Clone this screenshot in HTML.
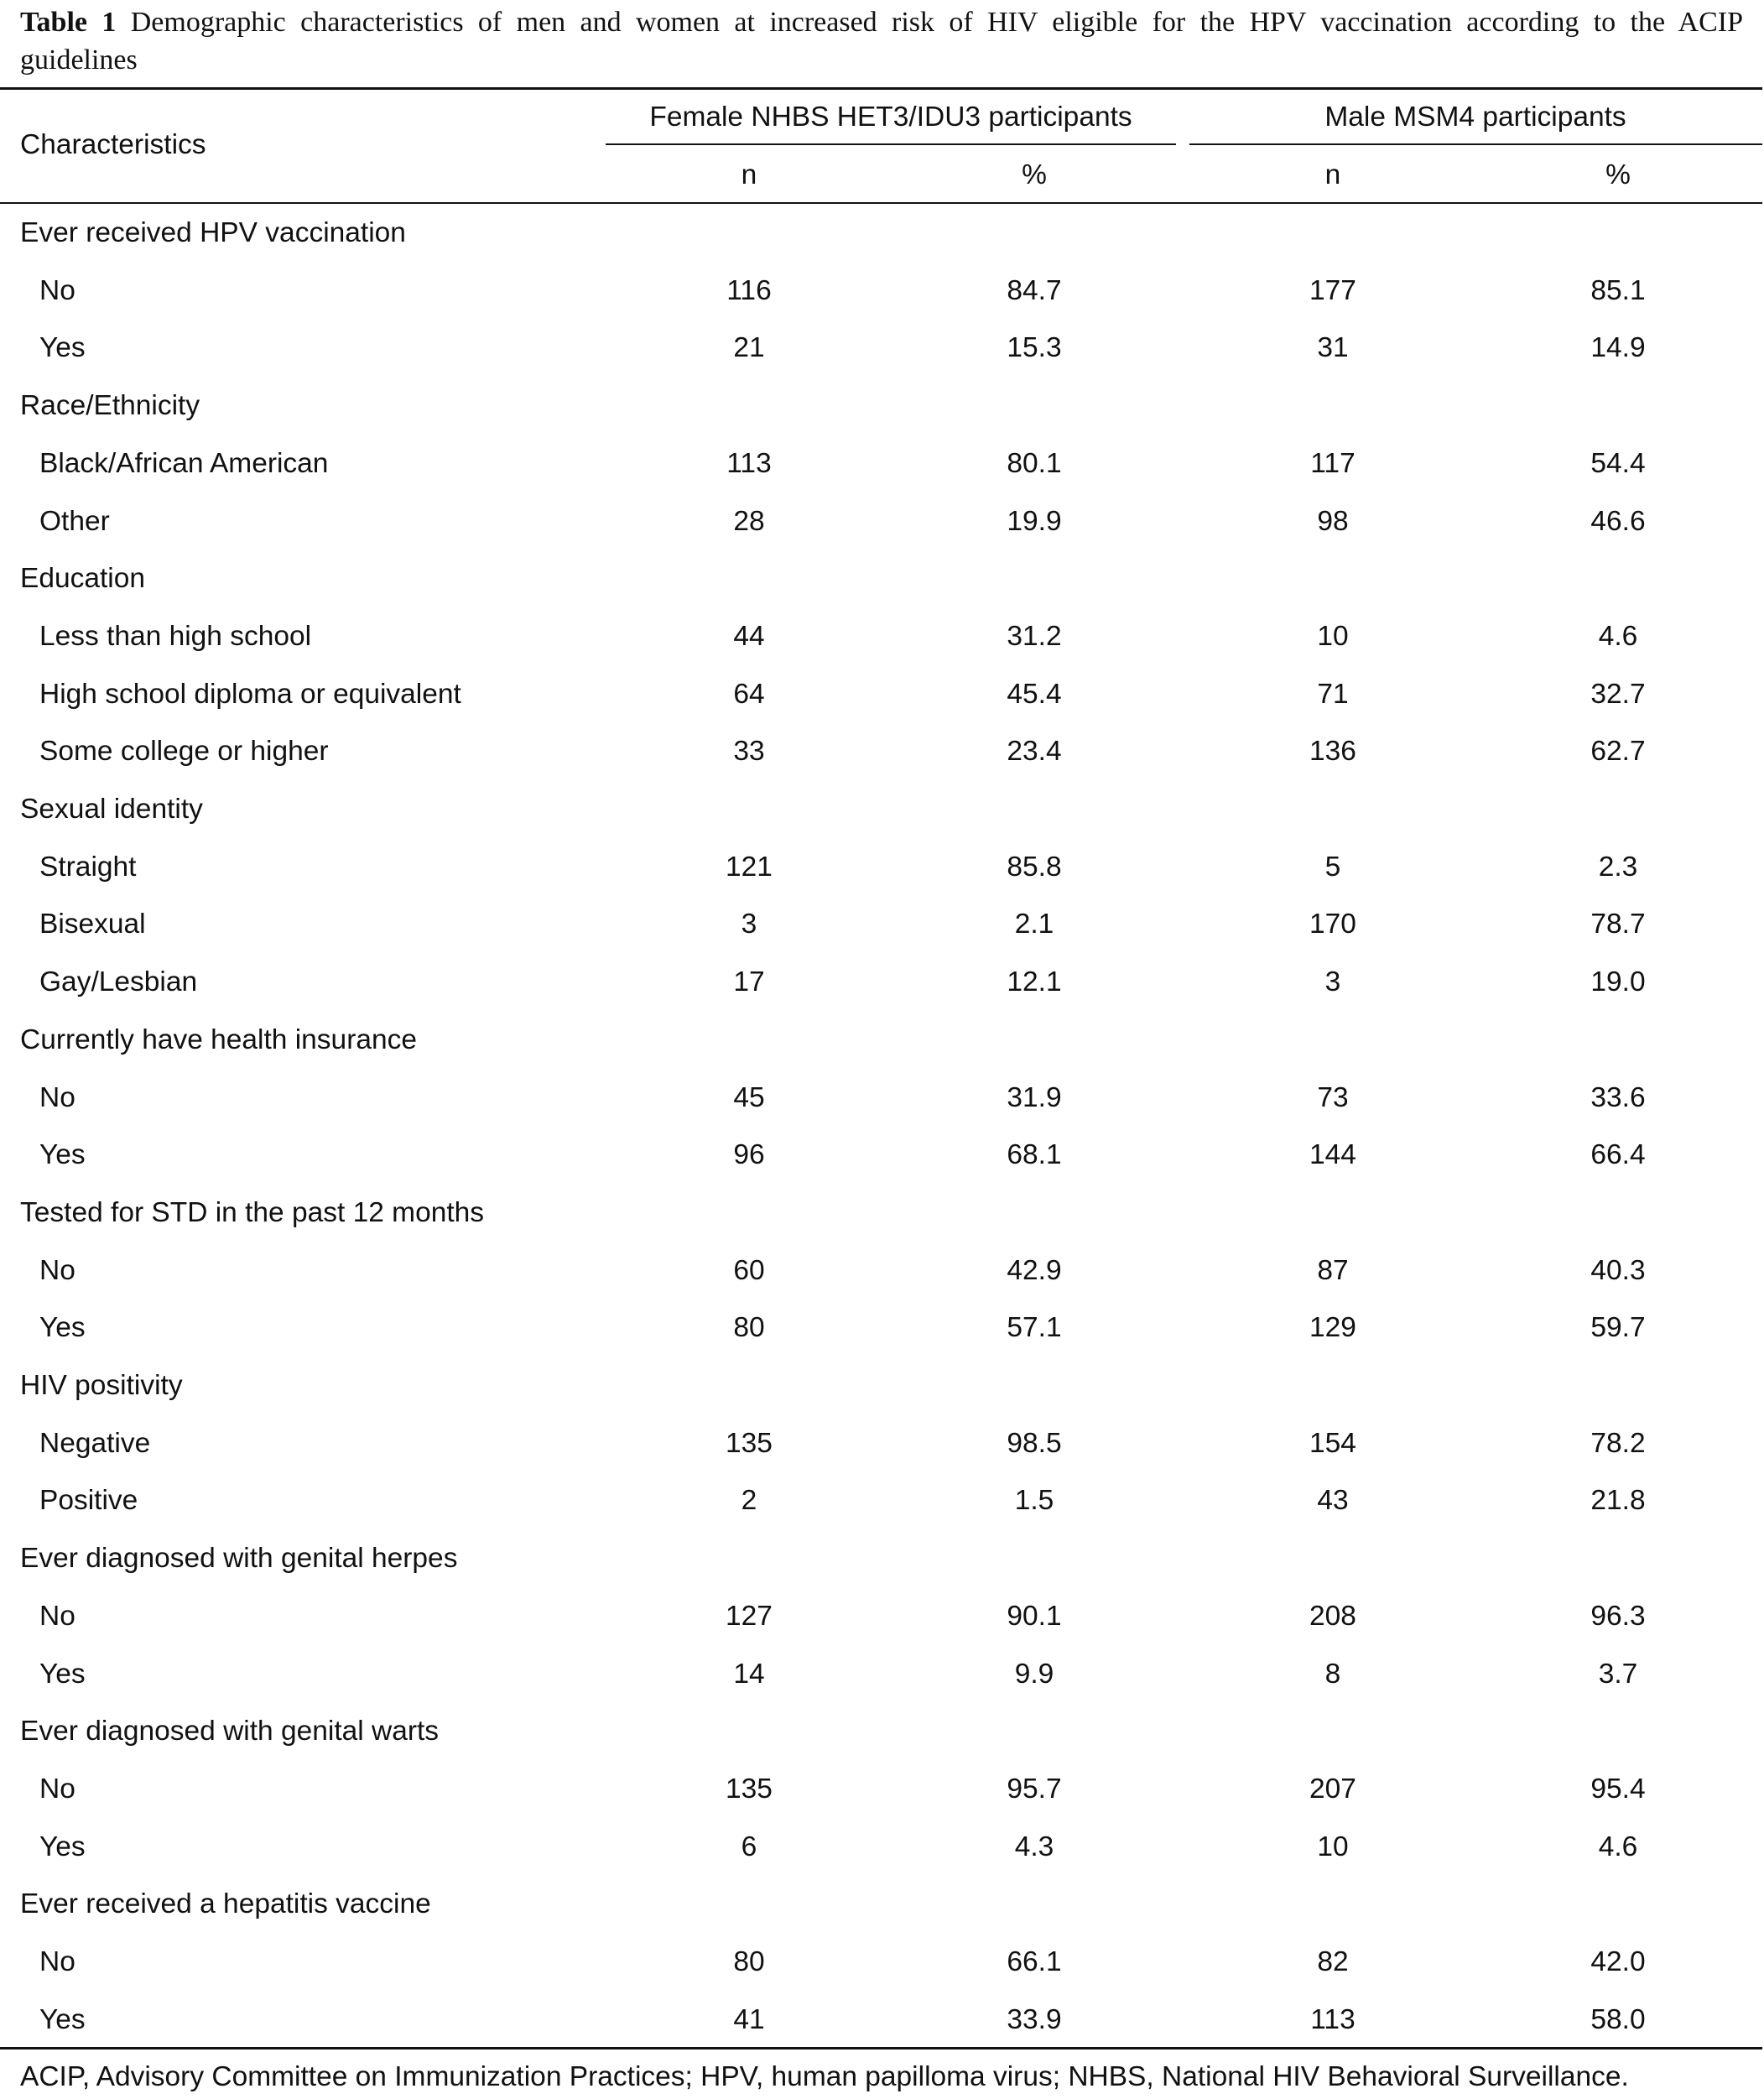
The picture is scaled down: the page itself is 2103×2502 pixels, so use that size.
<!DOCTYPE html>
<html><head><meta charset="utf-8"><style>
body{margin:0;width:2103px;height:2502px;background:#fff;position:relative;overflow:hidden;color:#111}
.t{position:absolute;font-family:"Liberation Sans",sans-serif;font-size:33.5px;line-height:40px;white-space:nowrap}
.c{transform:translateX(-50%)}
.rule{position:absolute;left:0;width:2101px;background:#111}
.ttl{position:absolute;left:24px;width:2054px;font-family:"Liberation Serif",serif;font-size:34px;line-height:44px}
</style></head><body>
<div class="ttl" style="top:5px;text-align:justify;text-align-last:justify"><b>Table 1</b> Demographic characteristics of men and women at increased risk of HIV eligible for the HPV vaccination according to the ACIP</div>
<div class="ttl" style="top:50px">guidelines</div>
<div class="rule" style="top:104px;height:3px"></div>
<div class="t" style="left:24px;top:153px">Characteristics</div>
<div class="t c" style="left:1062px;top:120px">Female NHBS HET3/IDU3 participants</div>
<div class="t c" style="left:1759px;top:120px">Male MSM4 participants</div>
<div class="rule" style="top:171px;height:2px;left:722px;width:680px"></div>
<div class="rule" style="top:171px;height:2px;left:1418px;width:683px"></div>
<div class="t c" style="left:893px;top:189px">n</div>
<div class="t c" style="left:1233px;top:189px">%</div>
<div class="t c" style="left:1589px;top:189px">n</div>
<div class="t c" style="left:1929px;top:189px">%</div>
<div class="rule" style="top:241px;height:2px"></div>
<div id="rows"></div>
<div class="rule" style="top:2440px;height:3px"></div>
<div class="t" style="left:24px;top:2456px">ACIP, Advisory Committee on Immunization Practices; HPV, human papilloma virus; NHBS, National HIV Behavioral Surveillance.</div>
<script>
var R=[["Ever received HPV vaccination"],["No","116","84.7","177","85.1"],["Yes","21","15.3","31","14.9"],
["Race/Ethnicity"],["Black/African American","113","80.1","117","54.4"],["Other","28","19.9","98","46.6"],
["Education"],["Less than high school","44","31.2","10","4.6"],["High school diploma or equivalent","64","45.4","71","32.7"],["Some college or higher","33","23.4","136","62.7"],
["Sexual identity"],["Straight","121","85.8","5","2.3"],["Bisexual","3","2.1","170","78.7"],["Gay/Lesbian","17","12.1","3","19.0"],
["Currently have health insurance"],["No","45","31.9","73","33.6"],["Yes","96","68.1","144","66.4"],
["Tested for STD in the past 12 months"],["No","60","42.9","87","40.3"],["Yes","80","57.1","129","59.7"],
["HIV positivity"],["Negative","135","98.5","154","78.2"],["Positive","2","1.5","43","21.8"],
["Ever diagnosed with genital herpes"],["No","127","90.1","208","96.3"],["Yes","14","9.9","8","3.7"],
["Ever diagnosed with genital warts"],["No","135","95.7","207","95.4"],["Yes","6","4.3","10","4.6"],
["Ever received a hepatitis vaccine"],["No","80","66.1","82","42.0"],["Yes","41","33.9","113","58.0"]];
var xs=[893,1233,1589,1929],h="";
R.forEach(function(r,i){var y=(278+i*68.7-20).toFixed(1);
if(r.length==1){h+='<div class="t" style="left:24px;top:'+y+'px">'+r[0]+'</div>';}
else{h+='<div class="t" style="left:47px;top:'+y+'px">'+r[0]+'</div>';
for(var j=0;j<4;j++)h+='<div class="t c" style="left:'+xs[j]+'px;top:'+y+'px">'+r[j+1]+'</div>';}});
document.getElementById("rows").innerHTML=h;
</script>
</body></html>
